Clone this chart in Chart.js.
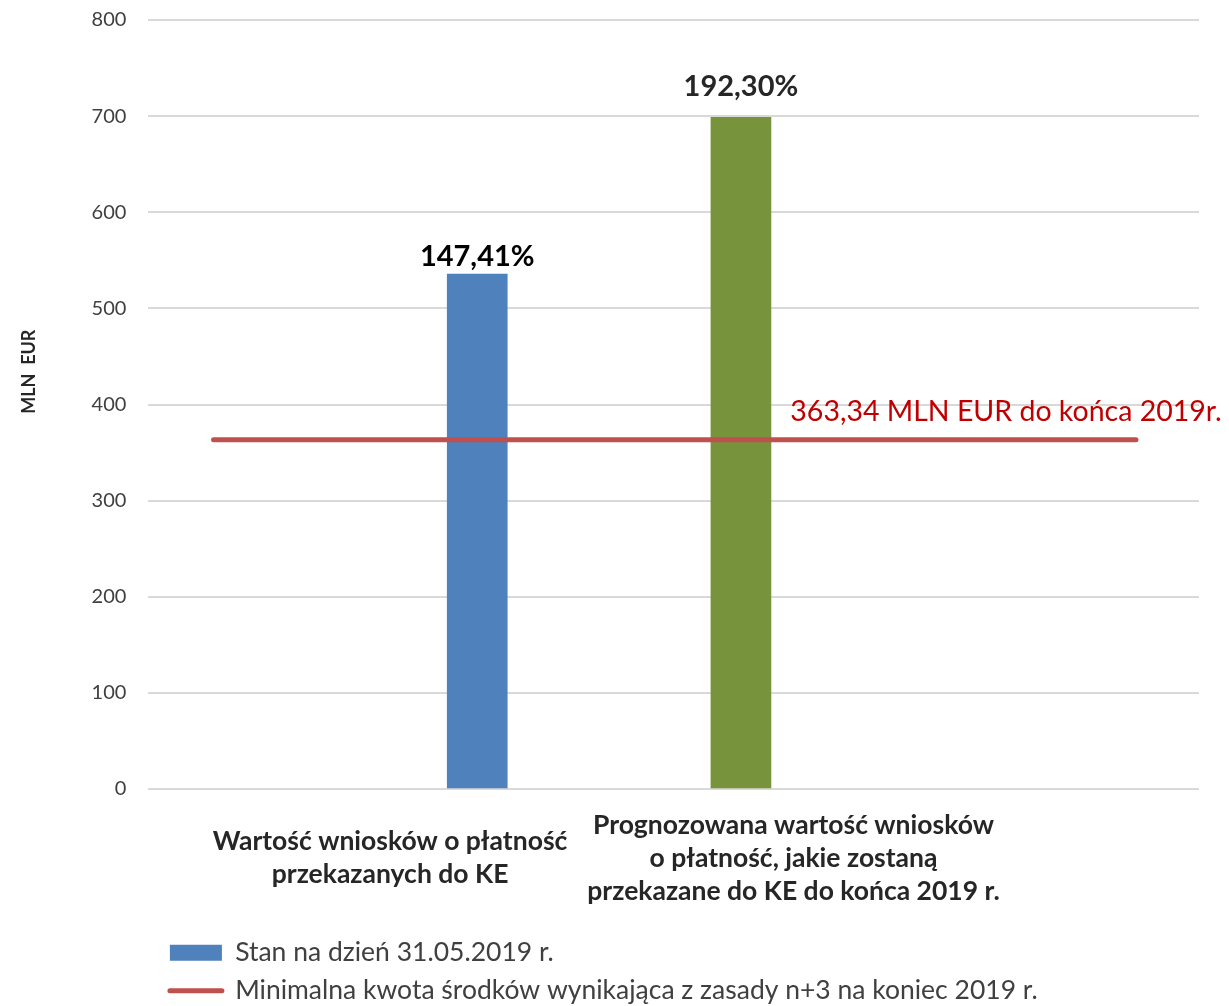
<!DOCTYPE html>
<html lang="pl">
<head>
<meta charset="utf-8">
<title>Wnioski o płatność</title>
<script src="https://cdn.jsdelivr.net/npm/chart.js@4.4.1/dist/chart.umd.min.js"></script>
<style>
    html, body { margin: 0; padding: 0; background: #fff; }
</style>
</head>
<body>
<canvas id="chart" width="1229" height="1006"></canvas>
<script>
// dane
const categories = [
    ["Wartość wniosków o płatność", "przekazanych do KE"],
    ["Prognozowana wartość wniosków", "o płatność, jakie zostaną", "przekazane do KE do końca 2019 r."]
];
const barValues = [535.6, 698.7];
const barLabels = ["147,41%", "192,30%"];
const seriesNames = [
    "Stan na dzień 31.05.2019 r.",
    "Prognoza do końca 2019 r.",
    "Minimalna kwota środków wynikająca z zasady n+3 na koniec 2019 r."
];
const minimumValue = 363.34;
const minimumLabel = "363,34 MLN EUR do końca 2019r.";
const yMax = 800;
const yStep = 100;

// układ osi X (skala 0-100)
const catLabelX = [23.0, 61.4];
const barX = [31.3, 56.4];
const lineSpan = [6.2, 94.0];

const FONT = "Lato, 'Open Sans', sans-serif";

const labelsPlugin = {
    id: "labels",
    afterLayout(chart) {
        // legenda trochę w prawo, jak w oryginale
        chart.legend.left += 10;
        chart.legend.right += 10;
    },
    afterDatasetsDraw(chart) {
        const ctx = chart.ctx;
        const xs = chart.scales.x, ys = chart.scales.y;
        ctx.save();
        ctx.font = "bold 29px " + FONT;
        ctx.textAlign = "center";
        ctx.textBaseline = "alphabetic";
        const gaps = [8, 21];
        barLabels.forEach((txt, i) => {
            const bar = chart.getDatasetMeta(i).data[0];
            ctx.fillStyle = i === 0 ? "#000" : "#262626";
            ctx.fillText(txt, bar.x, bar.y - gaps[i]);
        });
        ctx.font = "28.5px " + FONT;
        ctx.fillStyle = "#C00000";
        ctx.textAlign = "left";
        ctx.fillText(minimumLabel, xs.getPixelForValue(61.1), ys.getPixelForValue(minimumValue) - 19);
        ctx.restore();
    }
};

new Chart(document.getElementById("chart"), {
    type: "bar",
    data: {
        datasets: [
            {
                label: seriesNames[0],
                data: [{ x: barX[0], y: barValues[0] }],
                backgroundColor: "#4F81BD",
                barThickness: 60,
                grouped: false,
                order: 2
            },
            {
                label: seriesNames[1],
                data: [{ x: barX[1], y: barValues[1] }],
                backgroundColor: "#77933C",
                barThickness: 60,
                grouped: false,
                order: 2
            },
            {
                type: "line",
                label: seriesNames[2],
                data: lineSpan.map(v => ({ x: v, y: minimumValue })),
                borderColor: "#C0504D",
                backgroundColor: "#C0504D",
                borderWidth: 5,
                borderCapStyle: "round",
                pointRadius: 0,
                order: 0
            }
        ]
    },
    options: {
        responsive: false,
        animation: false,
        layout: { autoPadding: false, padding: { top: 20, right: 30, left: 10, bottom: -8 } },
        plugins: {
            tooltip: { enabled: false },
            legend: {
                position: "bottom",
                align: "start",
                fullSize: false,
                labels: {
                    usePointStyle: true,
                    pointStyleWidth: 52,
                    boxHeight: 16,
                    padding: 11.5,
                    color: "#404040",
                    font: { family: FONT, size: 26.5 },
                    filter: item => item.datasetIndex !== 1,
                    sort: (a, b) => a.datasetIndex - b.datasetIndex,
                    generateLabels(chart) {
                        const items = Chart.defaults.plugins.legend.labels.generateLabels(chart);
                        items.forEach(it => {
                            if (it.datasetIndex === 2) {
                                it.pointStyle = "line";
                                it.lineWidth = 5;
                                it.strokeStyle = "#C0504D";
                                it.lineCap = "round";
                            } else {
                                it.pointStyle = "rect";
                                it.lineWidth = 0;
                            }
                        });
                        return items;
                    }
                }
            }
        },
        scales: {
            x: {
                type: "linear",
                min: 0,
                max: 100,
                offset: false,
                grid: { display: false, offset: false },
                border: { display: false },
                afterBuildTicks(scale) {
                    scale.ticks = catLabelX.map(v => ({ value: v }));
                },
                afterFit(scale) {
                    scale.height -= 24;
                },
                ticks: {
                    autoSkip: false,
                    maxRotation: 0,
                    padding: 28,
                    crossAlign: "center",
                    color: "#262626",
                    font: { family: FONT, size: 26.5, weight: "bold", lineHeight: 1.245 },
                    callback: (v, i) => categories[i]
                }
            },
            y: {
                min: 0,
                max: yMax,
                grid: { color: "#D9D9D9", lineWidth: 2, drawTicks: false },
                border: { display: false },
                afterFit(scale) {
                    // padding ticków dotyczy tylko odstępu w poziomie
                    scale.paddingTop = 12;
                    scale.paddingBottom = 12;
                },
                ticks: {
                    stepSize: yStep,
                    padding: 22,
                    color: "#404040",
                    font: { family: FONT, size: 20 }
                },
                title: {
                    display: true,
                    text: "\u00a0".repeat(15) + "MLN  EUR",
                    color: "#262626",
                    font: { family: FONT, size: 18, weight: "bold" },
                    padding: { top: 8, bottom: 30 }
                }
            }
        }
    },
    plugins: [labelsPlugin]
});
</script>
</body>
</html>
